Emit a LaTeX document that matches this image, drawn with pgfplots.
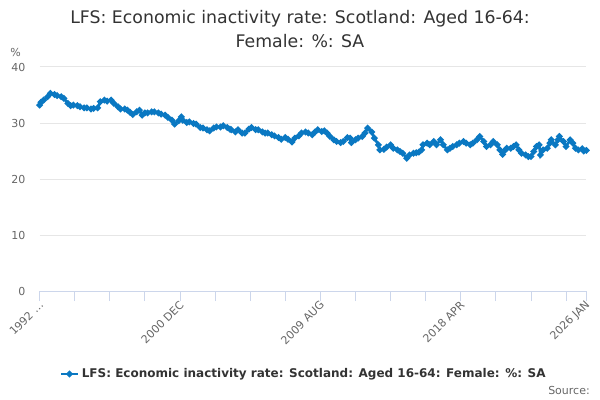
\documentclass[border=0pt]{standalone}
\usepackage{pgfplots}
\pgfplotsset{compat=1.18}
\usepackage{fontspec}
\setmainfont{DejaVu Sans}
\definecolor{lineblue}{HTML}{0A78C2}
\definecolor{axisgray}{HTML}{CCD6EB}
\definecolor{gridgray}{HTML}{E6E6E6}
\definecolor{labelgray}{HTML}{666666}
\definecolor{titlegray}{HTML}{333333}
\pgfplotstableread{
m v
0 33.2
1 33.7
3 34.1
6 34.7
8 35.3
11 35.1
13 34.9
16 34.7
18 34.4
21 33.5
23 33.1
25 33.2
28 33.1
30 32.9
33 32.7
35 32.7
38 32.5
40 32.6
43 32.7
45 33.8
48 34.1
50 33.9
53 34.1
55 33.5
58 32.9
60 32.5
63 32.5
65 32.3
67 31.9
69 31.5
72 32.0
74 32.3
76 31.4
78 31.8
80 31.8
83 32.0
85 32.0
88 31.8
90 31.6
93 31.4
95 31.0
98 30.5
100 29.8
103 30.4
105 31.1
106 30.5
109 30.1
111 30.2
114 29.9
116 29.8
119 29.2
121 29.1
124 28.8
126 28.6
129 29.1
131 29.3
134 29.3
136 29.5
139 29.2
141 28.9
142 28.8
145 28.4
147 28.8
150 28.2
152 28.2
155 28.9
157 29.2
160 28.8
162 28.8
165 28.4
167 28.2
169 28.2
172 27.9
174 27.7
177 27.4
179 27.1
182 27.4
184 27.1
187 26.6
189 27.3
192 27.7
194 28.2
197 28.4
199 28.2
202 27.9
204 28.4
206 28.8
209 28.5
211 28.6
213 28.2
215 27.6
218 27.0
220 26.7
223 26.5
225 26.7
228 27.4
230 27.3
231 26.5
234 27.0
236 27.3
239 27.6
241 28.2
243 29.1
246 28.4
248 27.3
251 26.1
252 25.2
255 25.3
257 25.7
260 26.1
262 25.5
265 25.2
267 24.9
269 24.6
272 23.7
274 24.3
277 24.6
279 24.7
281 24.8
283 25.2
284 26.1
287 26.4
289 26.1
292 26.7
294 26.1
297 27.0
299 26.1
302 25.2
304 25.5
306 25.8
309 26.1
311 26.4
314 26.7
316 26.4
319 26.1
321 26.4
324 27.0
326 27.6
329 26.7
331 25.8
334 26.1
336 26.7
339 26.1
341 25.2
343 24.4
345 25.2
346 25.5
349 25.5
351 25.8
353 26.1
355 25.2
357 24.6
360 24.3
362 24.0
364 24.0
366 24.9
368 25.8
370 26.1
371 24.3
373 25.2
376 25.5
378 26.4
379 27.0
382 26.1
384 27.0
385 27.6
388 26.7
390 25.8
393 27.0
395 26.4
397 25.5
399 25.2
402 25.4
403 25.0
405 25.1
}\inactivity
\begin{document}
\begin{tikzpicture}
\useasboundingbox (0,0) rectangle (450pt,300pt);
\node[font=\fontsize{13}{15}\selectfont, text=titlegray] at (225pt,285.75pt) {LFS: Economic inactivity rate: Scotland: Aged 16-64:};
\node[font=\fontsize{13}{15}\selectfont, text=titlegray] at (225pt,269.25pt) {Female: \%: SA};
\node[anchor=west, font=\fontsize{8.25}{10}\selectfont, text=labelgray, inner sep=0pt] at (7.5pt,261pt) {\%};
\node[anchor=east, font=\fontsize{8.25}{10}\selectfont, text=labelgray, inner sep=0pt] at (442.5pt,7.5pt) {Source:};
\begin{axis}[
  at={(29.7pt,81.75pt)}, anchor=south west,
  scale only axis, width=410.06pt, height=168pt,
  xmin=0, xmax=405, ymin=0, ymax=40,
  axis x line*=bottom, axis y line*=left,
  y axis line style={draw=none},
  x axis line style={color=axisgray, line width=0.75pt, -},
  ytick={0,10,20,30,40},
  ymajorgrids, grid style={gridgray, line width=0.75pt},
  ytick style={draw=none},
  /pgf/number format/assume math mode=true,
  yticklabel style={font=\fontsize{8.25}{10}\selectfont, text=labelgray, inner sep=0pt, anchor=east, xshift=-3pt},
  xtick={0,26,52,78,104,130,156,182,208,234,260,286,312,338,364,390,405},
  xticklabels={1992 …,,,,2000 DEC,,,,2009 AUG,,,,2018 APR,,,,2026 JAN},
  tick align=outside, major tick length=7.5pt,
  xtick style={color=axisgray, line width=0.75pt},
  xticklabel style={rotate=45, anchor=east, inner sep=0pt, yshift=-2pt, font=\fontsize{8.25}{10}\selectfont, text=labelgray},
  legend style={at={(0.4836,-0.3705)}, anchor=center, draw=none, fill=none, font=\bfseries\fontsize{9}{11}\selectfont, text=titlegray},
  legend image code/.code={\draw[#1, mark repeat=2, mark phase=2] plot coordinates {(0cm,0cm) (0.22cm,0cm) (0.44cm,0cm)};},
  legend cell align=left,
]
\addplot[color=lineblue, line width=2pt, mark=*, mark size=1.3pt] table[x=m, y=v] {\inactivity};
\addlegendentry{LFS: Economic inactivity rate: Scotland: Aged 16-64: Female: \%: SA}
\end{axis}
\end{tikzpicture}
\end{document}
